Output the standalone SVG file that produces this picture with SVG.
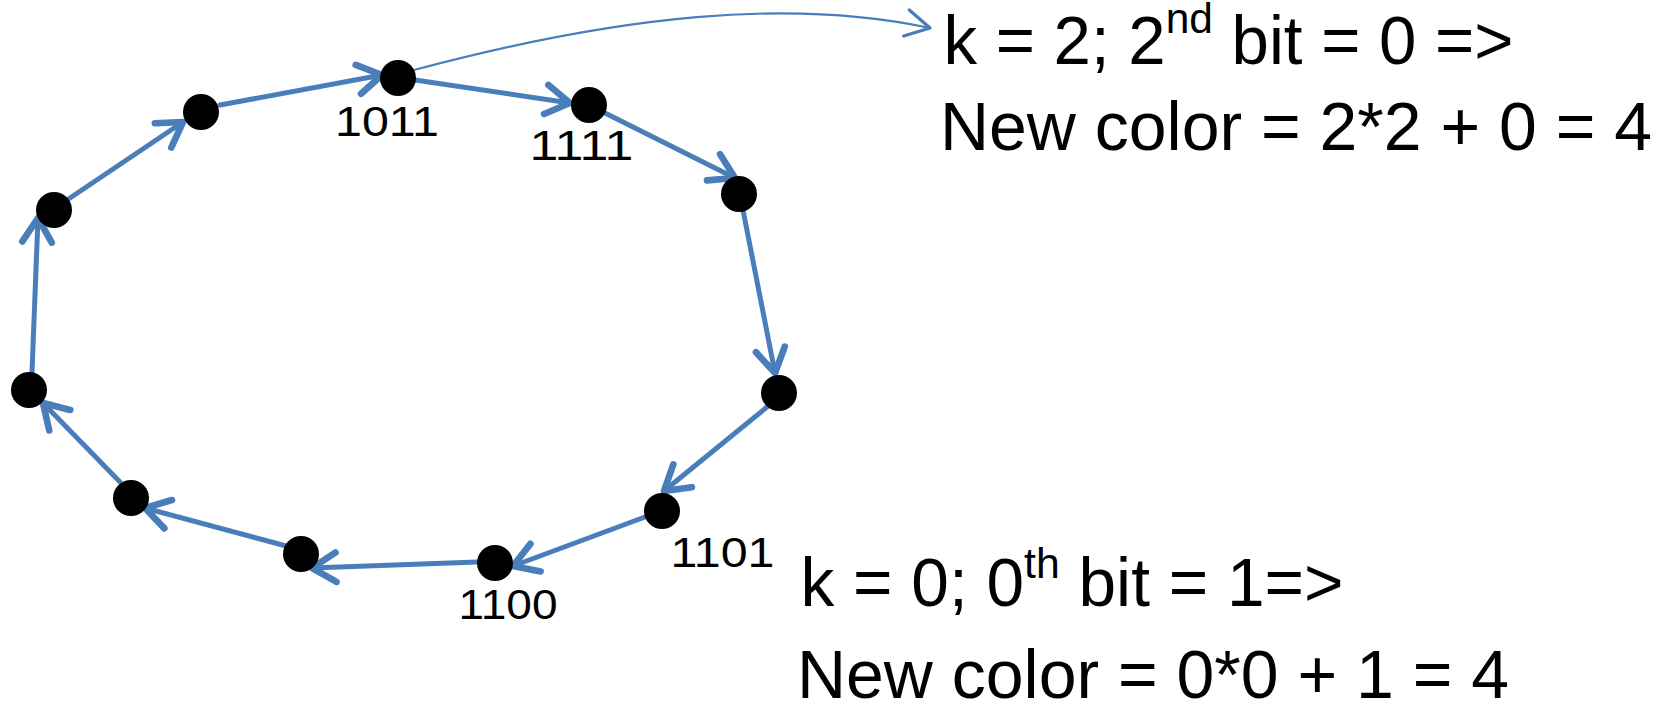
<svg xmlns="http://www.w3.org/2000/svg" width="1660" height="703" viewBox="0 0 1660 703">
<style>
.edge{fill:none;stroke:#4A7EBB;stroke-width:5;stroke-linecap:round;marker-end:url(#arr);}
.thin{fill:none;stroke:#4A7EBB;stroke-width:2.2;marker-end:url(#arrThin);}
.node{fill:#000;}
.lbl{font-family:"Liberation Sans",Arial,sans-serif;font-size:42px;fill:#000;text-anchor:middle;}
.big{font-family:"Liberation Sans",Arial,sans-serif;font-size:68px;fill:#000;}
</style>
<defs>
<marker id="arr" markerUnits="userSpaceOnUse" markerWidth="40" markerHeight="40" viewBox="-25 -15 30 30" refX="0" refY="0" orient="auto">
<path d="M -18 -11 L 0 0 L -18 11" fill="none" stroke="#4A7EBB" stroke-width="5" stroke-linecap="round" stroke-linejoin="round"/>
</marker>
<marker id="arrThin" markerUnits="userSpaceOnUse" markerWidth="40" markerHeight="40" viewBox="-25 -15 30 30" refX="0" refY="0" orient="auto">
<path d="M -18 -10 L 0 0 L -18 10" fill="none" stroke="#4A7EBB" stroke-width="2.5" stroke-linecap="round" stroke-linejoin="round"/>
</marker>
</defs>
<rect width="1660" height="703" fill="#fff"/>
<g id="connectors">
<path class="edge" d="M32 372 L38 218"/>
<path class="edge" d="M67 200 L183 122"/>
<path class="edge" d="M220 105 L382 75"/>
<path class="edge" d="M415 80 L570 103"/>
<path class="edge" d="M605 113 L735 178"/>
<path class="edge" d="M743 210 L775 373"/>
<path class="edge" d="M767 407 L664 491"/>
<path class="edge" d="M645 517 L513 566"/>
<path class="edge" d="M477 562 L312 568"/>
<path class="edge" d="M290 547 L145 508"/>
<path class="edge" d="M120 482 L43 403"/>
<path class="thin" d="M414 70 C 620 15, 790 -2, 930 28"/>
</g>
<g id="n1"><circle class="node" cx="29" cy="390" r="18"/></g>
<g id="n2"><circle class="node" cx="54" cy="210" r="18"/></g>
<g id="n3"><circle class="node" cx="201" cy="112" r="18"/></g>
<g id="n4"><circle class="node" cx="398" cy="78" r="18"/><text class="lbl" x="387" y="136" textLength="104" lengthAdjust="spacingAndGlyphs">1011</text></g>
<g id="n5"><circle class="node" cx="589" cy="105" r="18"/><text class="lbl" x="581.5" y="160" textLength="104" lengthAdjust="spacingAndGlyphs">1111</text></g>
<g id="n6"><circle class="node" cx="739" cy="194" r="18"/></g>
<g id="n7"><circle class="node" cx="779" cy="393" r="18"/></g>
<g id="n8"><circle class="node" cx="662" cy="511" r="18"/><text class="lbl" x="722.5" y="567" textLength="104" lengthAdjust="spacingAndGlyphs">1101</text></g>
<g id="n9"><circle class="node" cx="495" cy="563" r="18"/><text class="lbl" x="508" y="619" textLength="99" lengthAdjust="spacingAndGlyphs">1100</text></g>
<g id="n10"><circle class="node" cx="301" cy="554" r="18"/></g>
<g id="n11"><circle class="node" cx="131" cy="498" r="18"/></g>
<g id="note-top">
<text class="big" x="943.5" y="64" textLength="570" lengthAdjust="spacingAndGlyphs">k = 2; 2<tspan font-size="43" dy="-31">nd</tspan><tspan dy="31"> bit = 0 =&gt;</tspan></text>
<text class="big" x="940" y="150" textLength="712" lengthAdjust="spacingAndGlyphs">New color = 2*2 + 0 = 4</text>
</g>
<g id="note-bottom">
<text class="big" x="800.5" y="606" textLength="543" lengthAdjust="spacingAndGlyphs">k = 0; 0<tspan font-size="43" dy="-28">th</tspan><tspan dy="28"> bit = 1=&gt;</tspan></text>
<text class="big" x="797" y="698" textLength="712" lengthAdjust="spacingAndGlyphs">New color = 0*0 + 1 = 4</text>
</g>
</svg>
